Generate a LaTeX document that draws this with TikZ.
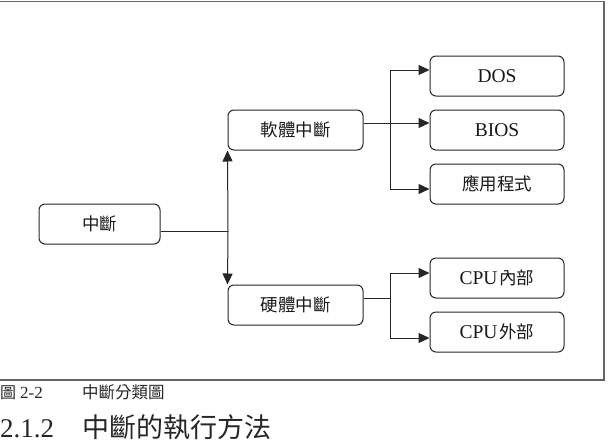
\documentclass[tikz,border=0pt]{standalone}
\usepackage{fontspec}
\setmainfont{Liberation Serif}
\newfontfamily\cjk{Noto Sans CJK TC}
\usetikzlibrary{arrows.meta}
\tikzset{
  box/.style={draw=black!85, line width=1pt, rounded corners=6pt, minimum height=40pt, inner sep=0pt, font=\fontsize{17.5}{19}\selectfont\cjk, text=black!90},
  lbox/.style={box, font=\fontsize{19.5}{21}\selectfont\rmfamily},
  conn/.style={draw=black!85, line width=1pt},
  arr/.style={conn, -{Triangle[length=11pt,width=10pt]}},
}
\begin{document}
\begin{tikzpicture}[x=1pt,y=-1pt]
\useasboundingbox (0,0) rectangle (613,442);
\draw[black!60, line width=1.3pt] (-2,1.5) -- (604,1.5) -- (604,380) -- (-2,380);
% nodes
\node[box, minimum width=121pt] (int) at (99.5,224) {中斷};
\node[box, minimum width=135pt] (soft) at (295.5,130) {軟體中斷};
\node[box, minimum width=135pt] (hard) at (295.5,305) {硬體中斷};
\node[lbox, minimum width=134pt] (dos) at (497,76) {DOS};
\node[lbox, minimum width=134pt] (bios) at (497,130) {BIOS};
\node[box, minimum width=134pt] (app) at (497,184) {應用程式};
\node[lbox, minimum width=134pt] (cpuin) at (497,278) {CPU\hspace{2pt}{\cjk\fontsize{17.5}{19}\selectfont 內部}};
\node[lbox, minimum width=134pt] (cpuout) at (497,332) {CPU\hspace{2pt}{\cjk\fontsize{17.5}{19}\selectfont 外部}};
% junctions
\coordinate (j1) at (228,231);
\coordinate (j2) at (390,123);
\coordinate (j3) at (390,298);
% connectors
\draw[conn] ([yshift=-7pt]int.east) -- (j1);
\draw[arr] (j1) -- (soft.south west);
\draw[arr] (j1) -- (hard.north west);
\draw[conn] ([yshift=7pt]soft.east) -- (j2);
\draw[arr] (j2) -- ([yshift=7pt]bios.west);
\draw[arr] (j2) |- ([yshift=6pt]dos.west);
\draw[arr] (j2) |- ([yshift=-5pt]app.west);
\draw[conn] ([yshift=7pt]hard.east) -- (j3);
\draw[arr] (j3) |- ([yshift=5pt]cpuin.west);
\draw[arr] (j3) |- ([yshift=-6pt]cpuout.west);
% caption
\node[anchor=base west, inner sep=0pt, font=\fontsize{17}{19}\selectfont, text=black!85] (cap1) at (0,398) {{\cjk\fontsize{16}{18}\selectfont 圖}\hspace{4pt}2-2};
\node[anchor=base west, inner sep=0pt, font=\fontsize{16.5}{18}\selectfont\cjk, text=black!85] (cap2) at (82,398) {中斷分類圖};
% heading
\node[anchor=base west, inner sep=0pt, font=\fontsize{27}{30}\selectfont, text=black!85] (h1) at (0,437) {2.1.2};
\node[anchor=base west, inner sep=0pt, font=\fontsize{27}{30}\selectfont\cjk, text=black!85] (h2) at (82,437) {中斷的執行方法};
\end{tikzpicture}
\end{document}
